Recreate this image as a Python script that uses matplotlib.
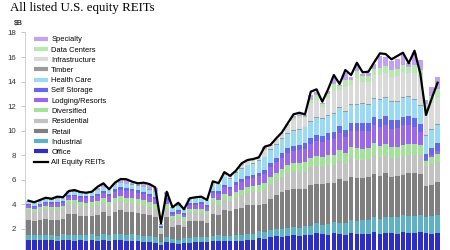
import numpy as np
import matplotlib
matplotlib.use("Agg")
import matplotlib.pyplot as plt
from matplotlib.lines import Line2D

# quarters 2003Q1 .. 2020Q4 (x axis is cropped out of the picture)
quarters = [f"{y}Q{q}" for y in range(2003, 2021) for q in range(1, 5)]

# $B per quarter
office = [1.10, 1.05, 1.10, 1.08, 1.05, 1.00, 1.08, 1.05, 0.98, 1.05, 1.02, 1.08,
          0.95, 1.08, 1.02, 1.06, 1.05, 0.98, 1.02, 1.00, 0.92, 0.88, 0.85, 0.62,
          0.90, 0.78, 0.72, 0.82, 0.85, 0.88, 0.92, 0.88, 0.95, 1.00, 0.95, 0.95,
          1.00, 1.02, 1.08, 1.05, 1.22, 1.18, 1.28, 1.35, 1.32, 1.38, 1.47, 1.40,
          1.45, 1.48, 1.67, 1.52, 1.48, 1.62, 1.55, 1.50, 1.62, 1.52, 1.58, 1.55,
          1.72, 1.55, 1.62, 1.60, 1.58, 1.74, 1.60, 1.62, 1.72, 1.60, 1.58, 1.65]
industrial = [0.40, 0.42, 0.40, 0.42, 0.43, 0.42, 0.44, 0.43, 0.45, 0.44, 0.46, 0.45,
              0.47, 0.46, 0.48, 0.48, 0.49, 0.48, 0.50, 0.50, 0.48, 0.47, 0.46, 0.30,
              0.40, 0.36, 0.34, 0.38, 0.40, 0.42, 0.41, 0.43, 0.42, 0.44, 0.45, 0.46,
              0.47, 0.48, 0.50, 0.52, 0.55, 0.56, 0.58, 0.60, 0.62, 0.64, 0.66, 0.68,
              0.72, 0.75, 0.78, 0.80, 0.85, 0.88, 0.92, 0.95, 1.05, 1.08, 1.10, 1.15,
              1.20, 1.25, 1.30, 1.32, 1.35, 1.38, 1.40, 1.42, 1.42, 1.36, 1.40, 1.45]
retail = [1.20, 1.15, 1.22, 1.30, 1.25, 1.30, 1.22, 1.70, 1.75, 1.52, 1.52, 1.50,
          1.70, 1.78, 1.55, 1.80, 1.95, 1.90, 1.85, 1.78, 1.80, 1.72, 1.60, 0.60,
          1.65, 1.00, 1.20, 0.90, 1.40, 1.30, 1.25, 1.12, 1.85, 1.70, 2.10, 2.00,
          2.10, 2.20, 2.30, 2.35, 2.15, 2.25, 2.55, 2.75, 3.00, 3.15, 3.10, 3.15,
          3.05, 3.30, 3.20, 3.30, 3.35, 3.20, 3.55, 3.40, 3.55, 3.50, 3.45, 3.50,
          3.55, 3.50, 3.60, 3.30, 3.35, 3.25, 3.50, 3.45, 3.30, 2.55, 2.60, 2.70]
residential = [0.78, 0.75, 0.78, 0.80, 0.80, 0.80, 0.82, 0.82, 0.80, 0.82, 0.80, 0.78,
               0.78, 0.76, 0.75, 0.78, 0.75, 0.74, 0.72, 0.72, 0.70, 0.70, 0.68, 0.35,
               0.72, 0.62, 0.62, 0.55, 0.68, 0.70, 0.72, 0.68, 0.85, 0.80, 0.88, 0.85,
               0.95, 1.00, 1.02, 1.05, 1.10, 1.15, 1.20, 1.25, 1.30, 1.35, 1.38, 1.40,
               1.42, 1.45, 1.48, 1.45, 1.50, 1.48, 1.52, 1.45, 1.50, 1.52, 1.50, 1.48,
               1.55, 1.50, 1.40, 1.52, 1.50, 1.55, 1.52, 1.55, 1.55, 1.60, 1.70, 1.65]
diversified = [0.23, 0.22, 0.24, 0.25, 0.26, 0.27, 0.28, 0.30, 0.32, 0.33, 0.32, 0.34,
               0.36, 0.38, 0.37, 0.40, 0.41, 0.42, 0.40, 0.40, 0.40, 0.38, 0.37, 0.15,
               0.35, 0.28, 0.30, 0.25, 0.30, 0.32, 0.33, 0.32, 0.38, 0.40, 0.42, 0.42,
               0.45, 0.46, 0.48, 0.50, 0.55, 0.58, 0.60, 0.62, 0.65, 0.68, 0.70, 0.72,
               0.75, 0.78, 0.80, 0.80, 0.82, 0.85, 0.88, 0.86, 0.90, 0.92, 0.90, 0.92,
               0.95, 0.95, 0.96, 0.92, 0.90, 0.92, 0.90, 0.88, 0.80, 0.40, 0.55, 0.60]
lodging = [0.17, 0.18, 0.20, 0.22, 0.24, 0.26, 0.28, 0.30, 0.33, 0.36, 0.38, 0.40,
           0.42, 0.45, 0.48, 0.50, 0.52, 0.55, 0.55, 0.53, 0.50, 0.50, 0.45, 0.05,
           0.30, 0.18, 0.20, 0.18, 0.25, 0.32, 0.35, 0.30, 0.45, 0.50, 0.55, 0.52,
           0.58, 0.62, 0.65, 0.62, 0.70, 0.75, 0.80, 0.82, 0.88, 0.95, 1.00, 1.02,
           1.10, 1.15, 1.20, 1.18, 1.25, 1.30, 1.35, 1.30, 1.35, 1.42, 1.45, 1.40,
           1.45, 1.55, 1.60, 1.50, 1.50, 1.58, 1.55, 1.40, 1.10, 0.05, 0.20, 0.30]
self_storage = [0.08, 0.08, 0.09, 0.09, 0.10, 0.10, 0.11, 0.11, 0.12, 0.13, 0.13, 0.14,
                0.15, 0.16, 0.17, 0.18, 0.19, 0.20, 0.21, 0.21, 0.21, 0.20, 0.20, 0.10,
                0.18, 0.16, 0.16, 0.15, 0.17, 0.18, 0.19, 0.18, 0.20, 0.21, 0.22, 0.22,
                0.24, 0.25, 0.26, 0.27, 0.30, 0.32, 0.34, 0.36, 0.38, 0.40, 0.42, 0.45,
                0.47, 0.50, 0.52, 0.54, 0.56, 0.58, 0.60, 0.60, 0.62, 0.64, 0.65, 0.64,
                0.66, 0.67, 0.68, 0.66, 0.66, 0.68, 0.68, 0.66, 0.62, 0.55, 0.58, 0.60]
health_care = [0.20, 0.20, 0.21, 0.22, 0.22, 0.23, 0.24, 0.25, 0.26, 0.27, 0.27, 0.28,
               0.29, 0.30, 0.31, 0.32, 0.33, 0.33, 0.34, 0.34, 0.34, 0.33, 0.33, 0.15,
               0.32, 0.30, 0.32, 0.30, 0.35, 0.38, 0.40, 0.40, 0.50, 0.55, 0.62, 0.65,
               0.75, 0.82, 0.88, 0.92, 0.98, 1.02, 1.05, 1.10, 1.15, 1.20, 1.22, 1.25,
               1.30, 1.32, 1.35, 1.38, 1.40, 1.42, 1.45, 1.45, 1.48, 1.50, 1.50, 1.48,
               1.50, 1.52, 1.50, 1.50, 1.50, 1.52, 1.55, 1.52, 1.50, 1.45, 1.45, 1.48]
timber = [0.02, 0.03, 0.03, 0.03, 0.03, 0.04, 0.03, 0.03, 0.04, 0.03, 0.02, 0.02,
          0.04, 0.04, 0.03, 0.04, 0.05, 0.05, 0.05, 0.05, 0.05, 0.05, 0.05, 0.02,
          0.04, 0.03, 0.04, 0.02, 0.03, 0.03, 0.03, 0.02, 0.05, 0.04, 0.05, 0.05,
          0.05, 0.05, 0.05, 0.05, 0.05, 0.06, 0.06, 0.06, 0.06, 0.06, 0.06, 0.06,
          0.06, 0.08, 0.08, 0.08, 0.08, 0.08, 0.08, 0.08, 0.08, 0.08, 0.08, 0.08,
          0.08, 0.08, 0.08, 0.08, 0.08, 0.08, 0.08, 0.08, 0.08, 0.06, 0.06, 0.06]
infrastructure = [0.00, 0.00, 0.00, 0.00, 0.00, 0.00, 0.00, 0.00, 0.00, 0.00, 0.00, 0.00,
                  0.00, 0.00, 0.00, 0.00, 0.00, 0.00, 0.00, 0.00, 0.00, 0.00, 0.00, 0.00,
                  0.00, 0.00, 0.00, 0.00, 0.00, 0.00, 0.00, 0.00, 0.05, 0.00, 0.10, 0.08,
                  0.06, 0.20, 0.20, 0.22, 0.15, 0.50, 0.25, 0.30, 0.35, 0.60, 0.85, 0.90,
                  0.70, 1.40, 1.45, 0.90, 1.40, 1.90, 1.40, 2.00, 1.60, 2.10, 1.75, 1.80,
                  1.90, 2.00, 1.95, 1.95, 2.00, 2.05, 1.90, 2.10, 2.20, 2.00, 2.10, 2.20]
data_centers = [0.00, 0.00, 0.00, 0.00, 0.00, 0.00, 0.00, 0.00, 0.00, 0.00, 0.00, 0.00,
                0.00, 0.00, 0.00, 0.00, 0.00, 0.00, 0.00, 0.00, 0.00, 0.00, 0.00, 0.00,
                0.00, 0.00, 0.00, 0.00, 0.00, 0.00, 0.00, 0.00, 0.03, 0.00, 0.05, 0.04,
                0.03, 0.06, 0.07, 0.07, 0.03, 0.10, 0.05, 0.07, 0.08, 0.10, 0.15, 0.15,
                0.12, 0.30, 0.35, 0.20, 0.30, 0.45, 0.30, 0.50, 0.40, 0.55, 0.45, 0.45,
                0.50, 0.55, 0.55, 0.55, 0.60, 0.60, 0.50, 0.65, 0.65, 0.55, 0.60, 0.70]
specialty = [0.04, 0.03, 0.03, 0.05, 0.03, 0.10, 0.03, 0.05, 0.06, 0.03, 0.02, 0.00,
             0.15, 0.18, 0.02, 0.12, 0.20, 0.27, 0.10, 0.08, 0.25, 0.30, 0.30, 0.06,
             0.08, 0.02, 0.15, 0.02, 0.02, 0.00, 0.00, 0.00, 0.08, 0.03, 0.15, 0.03,
             0.02, 0.10, 0.05, 0.03, 0.00, 0.15, 0.03, 0.05, 0.03, 0.05, 0.15, 0.15,
             0.10, 0.35, 0.30, 0.10, 0.20, 0.55, 0.10, 0.60, 0.25, 0.55, 0.20, 0.25,
             0.40, 0.95, 0.80, 0.75, 0.85, 0.85, 0.30, 1.00, 0.80, 0.33, 0.70, 1.00]

all_equity = [4.27, 4.14, 4.33, 4.51, 4.43, 4.60, 4.55, 5.06, 5.14, 4.98, 4.92, 5.00,
              5.41, 5.69, 5.20, 5.74, 6.04, 6.02, 5.82, 5.69, 5.74, 5.63, 5.36, 2.42,
              5.00, 3.73, 4.10, 3.57, 4.47, 4.55, 4.60, 4.33, 5.85, 5.70, 6.60, 6.30,
              6.72, 7.32, 7.59, 7.67, 7.81, 8.68, 8.82, 9.36, 9.85, 10.59, 11.32, 11.45,
              11.32, 13.17, 13.36, 12.35, 13.36, 14.53, 13.80, 14.94, 14.53, 15.53, 14.75, 14.80,
              15.57, 16.30, 16.24, 15.81, 16.08, 16.35, 15.49, 16.51, 14.67, 11.27, 12.63, 13.90]

# bottom-up stacking order
series = [
    ("Office", office, "#2e2ec6"),
    ("Industrial", industrial, "#5fb1c6"),
    ("Retail", retail, "#7f7f7f"),
    ("Residential", residential, "#c2c2c2"),
    ("Diversified", diversified, "#a4e29c"),
    ("Lodging/Resorts", lodging, "#9a68e8"),
    ("Self Storage", self_storage, "#6767ec"),
    ("Health Care", health_care, "#9bdaf4"),
    ("Timber", timber, "#9a9a9a"),
    ("Infrastructure", infrastructure, "#dadada"),
    ("Data Centers", data_centers, "#b6e8b0"),
    ("Specialty", specialty, "#c1a2f0"),
]

plt.rcParams["font.family"] = ["Liberation Sans", "DejaVu Sans"]

fig = plt.figure(figsize=(4.5, 2.5), dpi=100)
ax = fig.add_axes([25 / 450, 0.0, 416 / 450, 1 - 32.5 / 250])

x = np.arange(len(quarters))
bottom = np.zeros(len(quarters))
handles = []
for name, vals, color in series:
    ax.bar(x, vals, width=0.8, bottom=bottom, color=color, linewidth=0)
    bottom += np.array(vals)
    handles.append(Line2D([0], [0], color=color, lw=3, solid_capstyle="butt", label=name))

ax.plot(x, all_equity, color="black", lw=1.6)
handles = handles[::-1]
handles.append(Line2D([0], [0], color="black", lw=1.6, label="All Equity REITs"))

ax.set_xlim(-0.6, len(quarters) - 0.4)
ax.set_ylim(0.245, 18)
ax.set_yticks(range(2, 19, 2))
ax.tick_params(axis="y", labelsize=5.7, colors="#333333", length=3, width=0.6)
ax.tick_params(axis="y", color="#bbbbbb")
ax.set_xticks([])
for s in ["top", "right", "bottom"]:
    ax.spines[s].set_visible(False)
ax.spines["left"].set_color("#cccccc")
ax.spines["left"].set_linewidth(0.6)

fig.text(14 / 450, 1 - 24 / 250, "$B", fontsize=5, fontweight="bold", color="#333333",
         va="center", ha="left")
fig.text(10 / 450, 1 - 10.5 / 250, "All listed U.S. equity REITs", fontsize=9.3,
         family="Liberation Serif", va="baseline", ha="left")

fig.legend(handles=handles, loc="upper left", bbox_to_anchor=(34 / 450, 1 - 36 / 250),
           frameon=False, fontsize=5.4, handlelength=1.8, handletextpad=0.5,
           labelspacing=0.4, borderpad=0, borderaxespad=0)

fig.savefig("out.png", dpi=100)
